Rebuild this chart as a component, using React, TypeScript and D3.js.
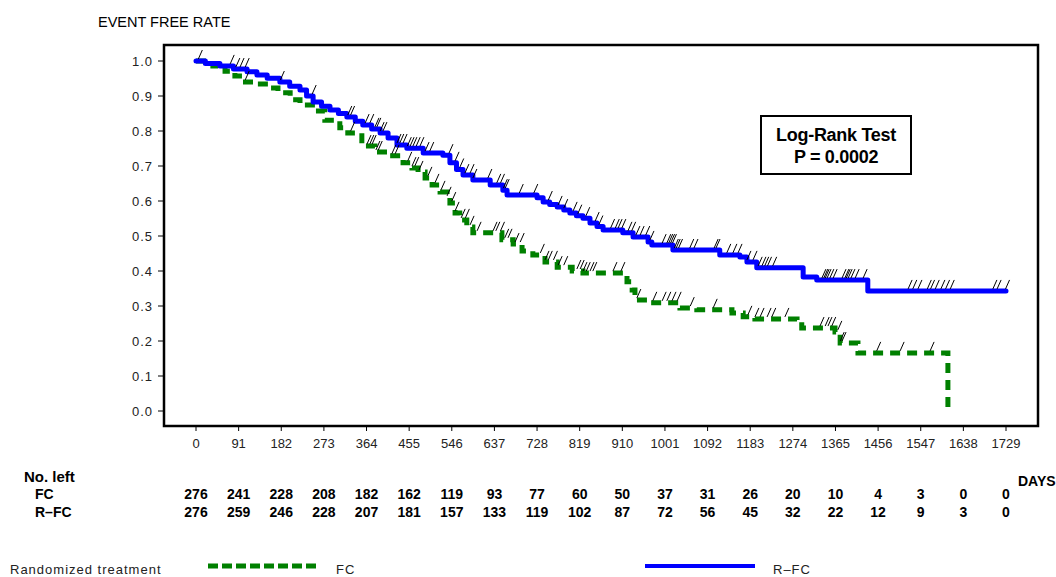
import React from 'react';
import * as d3 from 'd3';

// step points (days, event free rate)
const rfcTimes = [0, 20, 51, 80, 109, 130, 152, 179, 200, 222, 236, 250, 268, 286, 304, 322, 340, 356, 375, 393, 410, 429, 450, 485, 527, 542, 556, 570, 591, 628, 655, 664, 728, 741, 755, 771, 785, 798, 812, 826, 841, 856, 869, 911, 933, 965, 973, 1018, 1118, 1161, 1176, 1197, 1296, 1325, 1434, 1729];
const rfcSurv = [1.0, 0.993, 0.986, 0.977, 0.969, 0.96, 0.951, 0.94, 0.928, 0.917, 0.9, 0.883, 0.871, 0.86, 0.85, 0.84, 0.828, 0.817, 0.806, 0.794, 0.78, 0.76, 0.751, 0.737, 0.731, 0.709, 0.69, 0.674, 0.66, 0.646, 0.631, 0.617, 0.609, 0.597, 0.59, 0.583, 0.574, 0.566, 0.558, 0.551, 0.537, 0.527, 0.517, 0.509, 0.497, 0.483, 0.474, 0.46, 0.446, 0.44, 0.426, 0.409, 0.383, 0.374, 0.343, 0.343];

const fcTimes = [0, 36, 62, 83, 100, 126, 154, 175, 201, 222, 254, 275, 307, 324, 354, 382, 410, 442, 461, 474, 489, 504, 521, 536, 542, 553, 563, 578, 591, 653, 677, 696, 719, 745, 771, 803, 826, 920, 931, 937, 963, 1033, 1069, 1144, 1168, 1193, 1283, 1293, 1364, 1375, 1413, 1605];
const fcSurv = [1.0, 0.986, 0.971, 0.957, 0.94, 0.934, 0.923, 0.909, 0.889, 0.874, 0.857, 0.831, 0.809, 0.794, 0.757, 0.74, 0.729, 0.709, 0.694, 0.683, 0.666, 0.646, 0.626, 0.609, 0.594, 0.566, 0.546, 0.526, 0.509, 0.489, 0.477, 0.457, 0.446, 0.426, 0.411, 0.4, 0.394, 0.369, 0.346, 0.317, 0.309, 0.294, 0.289, 0.28, 0.269, 0.263, 0.26, 0.237, 0.226, 0.194, 0.166, 0.01];

// censored observations (days)
const rfcCensor = [5, 73, 85, 94, 105, 180, 248, 324, 330, 361, 371, 382, 386, 393, 399, 429, 435, 442, 451, 457, 463, 470, 478, 489, 499, 540, 553, 563, 574, 585, 591, 623, 642, 650, 656, 660, 690, 721, 752, 773, 785, 805, 815, 832, 852, 860, 885, 895, 901, 909, 922, 930, 939, 948, 960, 969, 995, 1005, 1009, 1013, 1017, 1021, 1025, 1030, 1054, 1063, 1106, 1110, 1133, 1146, 1157, 1176, 1189, 1200, 1208, 1214, 1220, 1231, 1336, 1340, 1343, 1347, 1353, 1360, 1379, 1385, 1388, 1392, 1398, 1407, 1424, 1520, 1530, 1541, 1561, 1568, 1578, 1590, 1600, 1610, 1701, 1710, 1728];
const fcCensor = [105, 330, 365, 371, 376, 384, 389, 418, 425, 452, 461, 467, 476, 495, 510, 523, 536, 546, 553, 566, 575, 585, 600, 634, 640, 650, 659, 666, 681, 692, 735, 745, 752, 763, 773, 785, 813, 820, 826, 833, 841, 847, 890, 907, 941, 975, 995, 1005, 1016, 1027, 1055, 1104, 1178, 1193, 1204, 1219, 1229, 1257, 1332, 1343, 1349, 1357, 1370, 1375, 1379, 1453, 1503, 1567];

const xTicks = [0, 91, 182, 273, 364, 455, 546, 637, 728, 819, 910, 1001, 1092, 1183, 1274, 1365, 1456, 1547, 1638, 1729];
const yTicks = [0, 0.1, 0.2, 0.3, 0.4, 0.5, 0.6, 0.7, 0.8, 0.9, 1.0];
const fcLeft = [276, 241, 228, 208, 182, 162, 119, 93, 77, 60, 50, 37, 31, 26, 20, 10, 4, 3, 0, 0];
const rfcLeft = [276, 259, 246, 228, 207, 181, 157, 133, 119, 102, 87, 72, 56, 45, 32, 22, 12, 9, 3, 0];

const BLUE = '#0000ff';
const GREEN = '#008000';
const SANS = '"Liberation Sans", Arial, sans-serif';

function survAt(times: number[], surv: number[], t: number) {
  const i = d3.bisectRight(times, t) - 1;
  return surv[Math.max(0, i)];
}

export default function App() {
  const W = 1056, H = 577;
  const frame = { l: 164, r: 1038, t: 45, b: 426 };
  const x = d3.scaleLinear().domain([0, 1729]).range([196, 1006]);
  const y = d3.scaleLinear().domain([0, 1]).range([411, 61]);

  const line = d3.line<[number, number]>()
    .x(d => x(d[0]))
    .y(d => y(d[1]))
    .curve(d3.curveStepAfter);

  const rfcPath = line(rfcTimes.map((t, i) => [t, rfcSurv[i]]))!;
  const fcPath = line(fcTimes.map((t, i) => [t, fcSurv[i]]))!;

  const tick = (t: number, s: number, key: string) => {
    const px = x(t), py = y(s);
    return <line key={key} x1={px} y1={py - 2} x2={px + 4} y2={py - 11} stroke="#000" strokeWidth={1} />;
  };

  return (
    <svg width={W} height={H} style={{ position: 'absolute', left: 0, top: 0, background: '#fff' }}>
      <text x={98} y={27} fontFamily={SANS} fontSize={14.5} fill="#000">EVENT FREE RATE</text>

      {/* y axis ticks */}
      {yTicks.map(v => (
        <g key={v}>
          <line x1={158} x2={frame.l} y1={y(v)} y2={y(v)} stroke="#000" strokeWidth={1} />
          <text x={153} y={y(v)} dy="0.35em" textAnchor="end" fontFamily={SANS} fontSize={13} fill="#222" letterSpacing={1}>
            {v.toFixed(1)}
          </text>
        </g>
      ))}

      {/* x axis ticks */}
      {xTicks.map(v => (
        <g key={v}>
          <line x1={x(v)} x2={x(v)} y1={frame.b} y2={frame.b + 5} stroke="#000" strokeWidth={1} />
          <text x={x(v)} y={443} dy="0.35em" textAnchor="middle" fontFamily={SANS} fontSize={13} fill="#222">{v}</text>
        </g>
      ))}

      {/* curves */}
      <path d={fcPath} fill="none" stroke={GREEN} strokeWidth={5} strokeDasharray="10,7" />
      <path d={rfcPath} fill="none" stroke={BLUE} strokeWidth={5} strokeLinejoin="round" strokeLinecap="round" />

      {/* censor marks */}
      {rfcCensor.map((t, i) => tick(t, survAt(rfcTimes, rfcSurv, t), 'b' + i))}
      {fcCensor.map((t, i) => tick(t, survAt(fcTimes, fcSurv, t), 'g' + i))}

      <rect x={frame.l} y={frame.t} width={frame.r - frame.l} height={frame.b - frame.t} fill="none" stroke="#000" strokeWidth={2.5} />

      {/* log-rank box */}
      <rect x={761} y={116} width={150} height={58} fill="#fff" stroke="#000" strokeWidth={2} />
      <text x={836} y={135} dy="0.35em" textAnchor="middle" fontFamily={SANS} fontWeight="bold" fontSize={18} letterSpacing={-0.3}>Log-Rank Test</text>
      <text x={836} y={157} dy="0.35em" textAnchor="middle" fontFamily={SANS} fontWeight="bold" fontSize={18} letterSpacing={-0.3}>P = 0.0002</text>

      {/* number at risk */}
      <text x={24} y={477} dy="0.35em" fontFamily={SANS} fontWeight="bold" fontSize={15}>No. left</text>
      <text x={35} y={494} dy="0.35em" fontFamily={SANS} fontWeight="bold" fontSize={14}>FC</text>
      <text x={35} y={512} dy="0.35em" fontFamily={SANS} fontWeight="bold" fontSize={14}>R–FC</text>
      {fcLeft.map((n, i) => (
        <text key={'f' + i} x={x(xTicks[i])} y={494} dy="0.35em" textAnchor="middle" fontFamily={SANS} fontWeight="bold" fontSize={14}>{n}</text>
      ))}
      {rfcLeft.map((n, i) => (
        <text key={'r' + i} x={x(xTicks[i])} y={512} dy="0.35em" textAnchor="middle" fontFamily={SANS} fontWeight="bold" fontSize={14}>{n}</text>
      ))}
      <text x={1018} y={481} dy="0.35em" fontFamily={SANS} fontWeight="bold" fontSize={14}>DAYS</text>

      {/* legend */}
      <text x={10} y={569} dy="0.35em" fontFamily={SANS} fontSize={13} fill="#222" letterSpacing={1}>Randomized treatment</text>
      <line x1={208} x2={318} y1={566} y2={566} stroke={GREEN} strokeWidth={5} strokeDasharray="10,4" />
      <text x={336} y={569} dy="0.35em" fontFamily={SANS} fontSize={13} fill="#222" letterSpacing={1}>FC</text>
      <line x1={645} x2={755} y1={566} y2={566} stroke={BLUE} strokeWidth={4} />
      <text x={773} y={569} dy="0.35em" fontFamily={SANS} fontSize={13} fill="#222" letterSpacing={1}>R–FC</text>
    </svg>
  );
}
